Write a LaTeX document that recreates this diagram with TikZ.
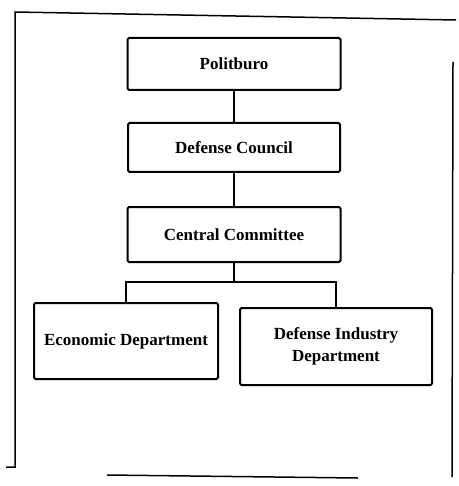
\documentclass[tikz,border=0pt]{standalone}
\usepackage{fontspec}
\setmainfont{Liberation Serif}
\begin{document}
\begin{tikzpicture}[x=1pt,y=-1pt,
  orgbox/.style={draw, line width=2pt, rounded corners=1.5pt, align=center,
    font=\fontsize{17}{21.5}\selectfont\bfseries, inner sep=2pt},
  link/.style={line width=2pt},
  frameline/.style={line width=1.5pt}]
\useasboundingbox (0,0) rectangle (458,486);
\node[orgbox, minimum width=213pt, minimum height=52pt] (P) at (234,64) {Politburo};
\node[orgbox, minimum width=212pt, minimum height=49pt] (DC) at (234,147.5) {Defense Council};
\node[orgbox, minimum width=213pt, minimum height=55pt] (CC) at (234,234.5) {Central Committee};
\node[orgbox, minimum width=184pt, minimum height=76pt] (E) at (126,341) {Economic Department};
\node[orgbox, minimum width=192pt, minimum height=77pt] (DI) at (336,346.5) {Defense Industry\\Department};
\coordinate (bus) at (234,282);
\draw[link] (P.south) -- (DC.north);
\draw[link] (DC.south) -- (CC.north);
\draw[link] (CC.south) -- (bus);
\draw[link] (E.north) |- (bus) -| (DI.north);
% outer frame
\draw[frameline] (6,467) -- (15,467) -- (15,12) -- (456,20);
\draw[frameline] (453,62) -- (452,477);
\draw[frameline] (107,475) -- (358,478);
\end{tikzpicture}
\end{document}
